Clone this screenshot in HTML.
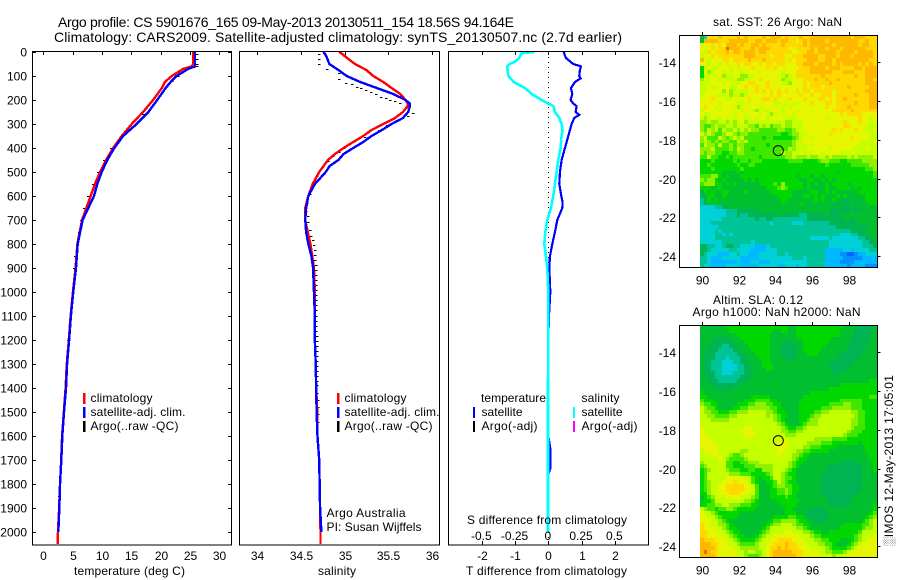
<!DOCTYPE html>
<html>
<head>
<meta charset="utf-8">
<title>Argo profile</title>
<style>
html,body{margin:0;padding:0;background:#fff;}
svg{display:block;font-family:"Liberation Sans",sans-serif;fill:#000;}
text{font-size:12px;}
.t{font-size:14px;}
</style>
</head>
<body>
<svg id="fig" xmlns="http://www.w3.org/2000/svg" width="900" height="580" viewBox="0 0 900 580">
<text class="t" x="58" y="27" textLength="456">Argo profile: CS 5901676_165 09-May-2013 20130511_154 18.56S 94.164E</text>
<text class="t" x="54" y="42" textLength="568">Climatology: CARS2009. Satellite-adjusted climatology: synTS_20130507.nc (2.7d earlier)</text>

<g id="p1"></g>
<g id="p2"></g>
<g id="p3"></g>
<g id="m1"></g>
<g id="m2"></g>

<rect x="32.5" y="51.5" width="199" height="493.5" fill="none" stroke="#000"/>
<rect x="239.5" y="51.5" width="200" height="493.5" fill="none" stroke="#000"/>
<rect x="448.5" y="51.5" width="200" height="493.5" fill="none" stroke="#000"/>
<rect x="679.5" y="35.5" width="198" height="232" fill="none" stroke="#000"/>
<rect x="679.5" y="325.5" width="198" height="232" fill="none" stroke="#000"/>

<text x="74" y="575" textLength="111">temperature (deg C)</text>
<text x="318" y="575" textLength="38">salinity</text>
<text x="466" y="575" textLength="161">T difference from climatology</text>
<text x="467" y="524" textLength="160">S difference from climatology</text>

<g>
<rect x="83" y="393" width="2.5" height="11" fill="#f00"/>
<rect x="83" y="407" width="2.5" height="11" fill="#00f"/>
<rect x="83" y="421" width="2.5" height="11" fill="#000"/>
<text x="90.5" y="402" textLength="62">climatology</text>
<text x="90.5" y="416" textLength="95">satellite-adj. clim.</text>
<text x="90.5" y="430" textLength="88">Argo(..raw -QC)</text>
</g>
<g>
<rect x="337" y="393" width="2.5" height="11" fill="#f00"/>
<rect x="337" y="407" width="2.5" height="11" fill="#00f"/>
<rect x="337" y="421" width="2.5" height="11" fill="#000"/>
<text x="344.5" y="402" textLength="62">climatology</text>
<text x="344.5" y="416" textLength="95">satellite-adj. clim.</text>
<text x="344.5" y="430" textLength="88">Argo(..raw -QC)</text>
<text x="326.5" y="517" textLength="79">Argo Australia</text>
<text x="326.5" y="531" textLength="95">PI: Susan Wijffels</text>
</g>
<g>
<text x="481" y="402" textLength="65">temperature</text>
<rect x="473" y="407" width="2" height="11" fill="#00f"/>
<text x="481.5" y="416" textLength="41">satellite</text>
<rect x="473" y="421" width="2" height="11" fill="#000"/>
<text x="481.5" y="430" textLength="56">Argo(-adj)</text>
<text x="581.5" y="402" textLength="38">salinity</text>
<rect x="573" y="407" width="2" height="11" fill="#0ff"/>
<text x="581.5" y="416" textLength="41">satellite</text>
<rect x="573" y="421" width="2" height="11" fill="#f0f"/>
<text x="581.5" y="430" textLength="56">Argo(-adj)</text>
</g>

<text x="713" y="26" textLength="129">sat. SST: 26 Argo: NaN</text>
<text x="713" y="304" textLength="90">Altim. SLA: 0.12</text>
<text x="692.5" y="316" textLength="168">Argo h1000: NaN h2000: NaN</text>
<text transform="translate(893,546) rotate(-90)" x="0" y="0" textLength="171">░IMOS 12-May-2013 17:05:01</text>
</svg>

<script>
// ---- depth profile data ----
const depthLevels = [0,10,25,50,60,70,100,125,150,200,250,300,350,400,450,500,550,600,700,800,900,1000,1100,1200,1300,1400,1500,1600,1700,1800,1900,2000,2050];
const tempClim = [25.55,25.55,25.55,25.5,25.3,23.85,21.9,20.7,20.2,18.7,17.0,15.06,13.36,11.9,10.68,9.66,8.8,8.07,6.6,5.8,5.5,5.05,4.65,4.35,4.0,3.8,3.5,3.2,3.05,2.85,2.7,2.5,2.45];
const tempSat = [25.85,25.85,25.85,25.85,25.85,24.7,22.7,21.7,20.85,19.4,17.9,15.9,13.6,12.1,10.9,9.95,9.2,8.64,6.7,5.86,5.57,5.1,4.7,4.4,4.05,3.87,3.53,3.24,3.07,2.85,2.73,2.56];
const argoTempDepth = [8,29,50,60,71,100,120,260,300,350,400,450,500,550,600,650,700,750,800,850,900,1000,1200,1850];
const argoTemp = [26.2,26.2,26.2,26.2,24.6,23.0,21.9,17.0,14.9,13.2,11.6,10.4,9.3,8.5,7.7,7.0,6.4,6.0,5.7,5.4,5.3,5.0,4.2,2.6];

const salDepth = [0,10,25,50,75,100,125,150,175,200,215,225,250,275,300,325,350,375,400,425,450,475,500,550,600,650,700,750,800,850,900,1000,1100,1200,1300,1400,1500,1600,1700,1800,1900,2000,2050];
const salClim = [34.94,34.98,35.03,35.12,35.25,35.33,35.445,35.54,35.64,35.70,35.725,35.725,35.67,35.58,35.445,35.31,35.215,35.10,34.99,34.89,34.81,34.76,34.71,34.635,34.585,34.55,34.55,34.578,34.61,34.63,34.65,34.66,34.66,34.66,34.67,34.675,34.688,34.69,34.71,34.715,34.72,34.725,34.725];
const salSat = [34.757,34.78,34.80,34.826,34.93,35.025,35.18,35.37,35.56,35.70,35.75,35.75,35.73,35.67,35.54,35.43,35.31,35.215,35.10,34.99,34.93,34.83,34.785,34.66,34.585,34.56,34.55,34.56,34.585,34.62,34.64,34.65,34.66,34.66,34.67,34.675,34.68,34.69,34.71,34.715,34.72,34.735];
const argoSalDepth = [8,29,50,71,89,114,128,135,144,151,158,165,175,186,193,200,204,214,235,253,267,283,304,325,356,374,399,415,432,453,492,515,557,592,631,661,682,707,742,765,784,805,826,847,868,888,909,930,951,972,993,1014,1035,1056,1077,1098,1119,1140,1161,1182,1203,1224,1245,1266,1287,1308,1329,1350,1371,1388,1420,1450,1480,1510,1540];
const argoSal = [34.71,34.71,34.71,34.80,34.933,34.933,35.017,35.083,35.14,35.186,35.247,35.30,35.358,35.415,35.473,35.522,35.579,35.636,35.70,35.782,35.73,35.60,35.484,35.39,35.235,35.10,34.994,34.937,34.872,34.815,34.719,34.688,34.635,34.604,34.567,34.555,34.578,34.585,34.604,34.616,34.635,34.647,34.658,34.665,34.665,34.673,34.673,34.673,34.673,34.673,34.673,34.673,34.673,34.673,34.673,34.673,34.673,34.673,34.673,34.681,34.681,34.681,34.681,34.681,34.681,34.681,34.681,34.681,34.688,34.688,34.688,34.695,34.695,34.70,34.70];

const diffTempDepth = [0,25,50,60,75,100,110,125,150,175,200,215,225,250,262,275,300,325,350,400,450,500,550,600,625,650,700,750,800,850,900,1000,1100,1200,1600,1660,1730,1760,2000];
const diffTemp = [0.46,0.53,0.75,0.98,0.95,0.93,0.97,0.80,0.68,0.72,0.67,0.75,0.85,0.82,0.93,0.78,0.70,0.65,0.60,0.50,0.40,0.35,0.33,0.39,0.43,0.42,0.27,0.20,0.12,0.05,0.03,0.06,0.02,0.0,0.0,0.07,0.07,0.0,0.0];
const diffSalDepth = [0,5,25,40,50,60,100,125,150,175,200,215,225,250,275,300,325,350,400,450,500,550,600,650,700,750,800,850,900,1000,1400,2000];
const diffSal = [-0.105,-0.20,-0.22,-0.25,-0.29,-0.31,-0.30,-0.26,-0.175,-0.125,-0.05,0,0.0375,0.05,0.0825,0.10,0.1075,0.10,0.0925,0.075,0.0625,0.05,0.0375,0.02,-0.0075,-0.0225,-0.03,-0.0175,-0.0075,0,-0.002,-0.002];

// ---- axis tick labels ----
const depthTicks = [0,100,200,300,400,500,600,700,800,900,1000,1100,1200,1300,1400,1500,1600,1700,1800,1900,2000];
const tempTicks = [0,5,10,15,20,25,30];
const salTicks = [34,34.5,35,35.5,36];
const diffTempTicks = [-2,-1,0,1,2];
const diffSalTicks = [-0.5,-0.25,0,0.25,0.5];
const lonTicks = [90,92,94,96,98];
const latTicks = [14,16,18,20,22,24];

// ---- map data: one colour-level code per 0.2 degree cell (0 coldest/lowest ... e warmest/highest) ----
const profileLon = 94.164;
const profileLat = 18.56;
const sstRows = [
"63cccdcc ccdcdccc cdcdddcd cccdccdd dddddddd dcdddccc",
"6ddddccc dddddccd dcdddcdd ccbcdcdd ddcddddd dddccdcc",
"bbbcbcbd ddcdccdd cdccccdc ccccdcdd ddddcddd dddcddcc",
"bbbcbcce dddcccdc dddccccc bbccccdc ddcdddcd dddddccc",
"bacbcccd cddcdddc ddcccccc cbbccddc dddddcdd ddcddddc",
"abbcbccc ccccdddc cccbcccb bcccdddd ccdddcdd dcdddddc",
"dbabbbcc bccccdcc cdcccccb cbcccddd ccddcddd ddddddcc",
"bbabbabc bbcbccbb cbccbccb bbccdddc ddddcdcd dddcdcdc",
"7abaabbb ababbbcb bbcbcbbb bbbcccdd ddcdddcc ccddcddd",
"7b9abbab abbabbbb bbbbbbab bbccccdd ddddcccd ddcccddd",
"7aabab9a abb99aab bbbbbba9 abcccccc cdcccccc ccdccddd",
"9babbaba aa99aabb cbbbbb9a abbbcccd ccdccdcc cccccddc",
"aaabbbab baabbccb bbcbbbaa 9bbbcbcc cccdcccc cccccddd",
"aabaabbb aabbcbbc bbcbbbbb bbbbcbcc cbcccccc dcccccdd",
"aabbbb9b 9abaabbc bcbcbcbc bbcbccbc ccccbccc cccccddd",
"abbbaaab 9aa9abbb bbbcbcbb bbbcbbcb bcccbccc ccdcccdd",
"bbbcbbba abbbbcbb bccbcbbb cbbbcbbb ccbcbccd ccccccdd",
"bbbbbabb bbaababb bbbbaaba baabbbcb bbccbccc ccdcccdd",
"bcbbabbb ba9abbbb abbbbbab abbbbbbb bbcbbccc dcccccdd",
"abbbbabb bbbabba9 baabbbab bbabbbbb bbbbcccc cdcccccc",
"baabbbbb babbabbb aba9abab babbbbbb bbbbbbcb ccccbbbb",
"a9abaaba babbaaba bbabbbba aabbbbbb bbabbbbb bbbcbbab",
"99a99aa9 a9ab9aaa aaaaaaa9 9aaabbbb bbbbbbbc bbbcbbab",
"9889a99a a9aaa998 a9a899a9 9aaabbbb bbbbbbbc cbbbbaaa",
"98a9a8a9 9a9a9a99 88888998 89aabbbb bbbbcbcb bbcbbaab",
"a9a9889a a9899888 88888877 899aabbb bbbcbbbb bbbbbbaa",
"9a888a98 9a9a8888 87887777 789abbab bbbbbbbb bcbbbbaa",
"9a989899 88a9a888 88888888 89aabbbb bbbbbbbb bbbbaaab",
"8a998a88 98998888 88788888 89aaabab bbbbbbbb bbbaaaaa",
"999a8888 98a98878 88888888 a9aaabbb bbbabbbb baaaabaa",
"98998877 88998888 888888a9 9aabaaab babbbbaa abaaaaaa",
"88a88778 78888888 78888889 9a999a99 aa9a9999 a9a9999a",
"77787777 78788788 87777777 88887777 89988877 88889999",
"77877777 77877887 77777777 77777777 77877777 78888899",
"77787777 77787777 77777777 77777777 77777777 77777889",
"77777766 66767777 77777777 77777777 77777677 77777778",
"88899767 66677777 77777777 77677767 76777777 77777778",
"98997676 66667676 77777777 77766776 67676777 77777777",
"89997767 67666666 77778797 77776767 66767777 67777777",
"77766766 66666666 66777898 77776766 66766777 76767777",
"57676677 66667666 66677777 76666677 66767666 66677777",
"55776676 66666666 66666777 76667767 67666767 66666777",
"45767666 66666666 66666677 66666667 67667665 56666777",
"45666666 66666666 66666676 66676666 66666555 66656677",
"33334455 66666666 66666666 66666666 66665665 56566666",
"33333334 44555555 66666666 66666666 66655555 56556666",
"33333334 44544555 55555655 55544555 55655566 66666666",
"33333344 44444445 44554444 44444555 55555556 65666666",
"33344444 44444444 44434444 43334444 44455555 55566666",
"33333444 44444444 44444444 44444444 44444555 55555566",
"33334344 44444444 44444444 44444444 44444444 45555666",
"33334434 34444444 44444444 44444444 44444433 34455566",
"33334444 44444444 44444444 44444433 33343333 33344556",
"33333344 44444434 44444444 44444444 44433333 33334455",
"55443345 54433332 22344444 44444444 44433333 33334445",
"55433333 44333322 22333444 44444444 44222223 32333344",
"54333222 33433222 33333443 44444444 44222211 00122333",
"44322233 33322222 33333333 34443444 44222221 11112222",
"44322222 22322233 22233333 33333444 44222211 11222222",
"43322223 33322222 33333223 33233444 44222222 12222111"
];
const slaRows = [
"66666667 77777777 77777777 66777777 77777776 66655556",
"66666666 77777777 77776677 66777777 77777766 66555556",
"66666666 66777777 77766666 66777777 77777766 66555566",
"66665555 66677777 77766666 66677777 77776666 65555566",
"66655555 56667777 77766665 56667777 77766666 65555566",
"66555544 55666777 77766655 55667777 77666666 55555666",
"66555444 45566677 77766655 55667777 76666666 55555666",
"65554444 44556667 77766655 55666777 66666655 55556666",
"65554443 44455666 77766665 55666666 66666555 55566666",
"65544433 34455666 67766666 66666666 66655555 55666666",
"65544433 33445566 67776666 66666666 66655555 56666666",
"65544433 33445566 66776666 66666666 66665555 66666666",
"65554433 34445566 66666666 66666666 66665566 66666666",
"66554444 44455566 66666666 66666666 66666666 66666666",
"66555444 44555666 66666666 66666666 66666666 66666677",
"66655555 55566666 66666666 66666666 66666677 77777777",
"66666555 56666666 66666666 66666666 66677777 77777777",
"76666666 66666666 66666666 66666677 77777777 77777777",
"77666666 66666677 77766666 66667777 77777777 77777788",
"87776666 66667778 88877666 66677777 77777788 88887777",
"98877666 66777889 99887766 66677777 77788889 98887777",
"a9887666 67788999 99988766 66677777 78889999 98887777",
"a9988777 88999aaa aa998776 66677778 899aaaaa a9988777",
"aa998888 99aaaaaa aa9a9877 66677789 9aaaaaaa aa988777",
"aaa99999 aaaaaaaa aaaa9876 66677899 aaaaaaaa a9988777",
"aaaaaaaa aaaaaaaa aaaaa987 66678999 aaaaaaaa a9988777",
"baaaaaaa aaaabbaa aaaaaa98 77889aaa aaaaaaaa a9888777",
"baaaaaaa aaabbbba aaaaaa99 8899aaaa aaaaaaaa 98887777",
"bbaaaaaa aaaabbba aaaaaaa9 99aaaaaa aaaaaaa9 88877777",
"bbbaaaaa aaaaabaa aaaaaaaa aaaaaaa9 99998888 77777777",
"bbbbaaaa aaaaaaaa aaaaabbb aaaaa999 98887777 77767777",
"bbbbbaaa aaaaaaaa aaaabbbb aaaa9988 87777666 66666777",
"abbbbaaa aaa99aaa aaaaabba aa998877 77766666 66666777",
"aaabbbaa 9889aaaa aaaaabaa a9987766 66666666 66666677",
"aaaaaba9 88889aaa aaaaaaaa a9877666 66666666 66666677",
"9aaaaaa8 87788999 aaaaaaaa 98776666 66666655 55566667",
"89aaaaa8 87778889 9999aaaa 98766666 66655555 55556667",
"789aaaa9 88877887 7999aaa9 87666666 66555555 55556667",
"78aaaaaa 99988877 7789aa98 77666666 66555555 55556666",
"78aaaaab bbbbaa87 6778aa98 87666666 65555555 55556666",
"789aaabb bcbbba87 66778a98 77666666 65555555 55556666",
"789aabbc ccccbba8 66678998 87766666 65555555 55556666",
"789aabbc ccccbba8 66677889 87766666 65555555 55556666",
"779aabbb cccbbaa8 66677889 87666666 65555555 55566666",
"6789aaab bbbaaa98 66677778 77666666 66555555 55666666",
"6778aaaa aaaa9987 66666777 77766666 66655555 56666666",
"778899aa 99988877 66666677 77666666 66655555 66666667",
"a9887889 98777776 66666667 76666655 55666666 66666667",
"baa98777 77766666 66666667 77666555 55566666 66666678",
"bbaa9877 77666666 66667777 88776555 55566666 66666789",
"bbbaa987 66666666 66678899 99877665 55666666 6666789a",
"cbbaa998 76666666 667899aa a9887766 66666667 7777889a",
"cbbbaa98 77666666 678aaaaa aa998766 66666677 7777899a",
"ccbbbaa9 87766666 789aaaab baaa9987 76677777 7778aaaa",
"ccbbbbaa 98776667 89aabbbb bbbaaa98 87777777 7789aaab",
"dcccbbba a9877778 9aabbccc cbbbaaa9 98877766 6789aabb",
"dddccbbb aa988889 aabbcccd ccbbbaaa 99887666 789abbbb",
"ddddcbbb baa99999 aabccdcd cccbbbaa aa987777 89abbbbb",
"dedccbbb bbaa9aa9 9abcdddd dcccbbbb aa998889 abbbbbbb",
"ddddcbbb bbaa9888 9abcdddd ddccbbbb baaa9aaa bbbbbbbb"
];

// ---- rendering ----
const NS = 'http://www.w3.org/2000/svg';
const colorScale = {'0':'#0064ff','1':'#0090ff','2':'#00b8ff','3':'#00d0d8','4':'#00c498','5':'#00b454','6':'#00c030','7':'#00d800','8':'#40e800','9':'#90f000','a':'#c4ff00','b':'#e6f500','c':'#ffd800','d':'#ffb800','e':'#e07000'};

function yDepth(d){ return 52 + d * 0.24; }
function xTemp(v){ return 43.3 + v * 5.87; }
function xSal(v){ return 257.3 + (v - 34) * 87.2; }
function xDiffT(v){ return 548.3 + v * 33.3; }
function xDiffS(v){ return 548.3 + v * 133; }
function xLon(v){ return 701.7 + (v - 90) * 18.4; }
function yLat(v, top){ return top + 27.3 + (v - 14) * 19.37; }

function svgEl(tag, parent){
  const el = document.createElementNS(NS, tag);
  parent.appendChild(el);
  return el;
}
function addLine(parent, x1, y1, x2, y2){
  const el = svgEl('line', parent);
  el.setAttribute('x1', x1); el.setAttribute('y1', y1);
  el.setAttribute('x2', x2); el.setAttribute('y2', y2);
  el.setAttribute('stroke', '#000');
  el.setAttribute('shape-rendering', 'crispEdges');
  
  
  return el;
}
function addLabel(parent, x, y, str, anchor){
  const el = svgEl('text', parent);
  el.setAttribute('x', x); el.setAttribute('y', y);
  el.setAttribute('text-anchor', anchor);
  el.textContent = str;
  
  
  return el;
}
function addCurve(parent, xs, ds, xf, color, width, name){
  const el = svgEl('polyline', parent);
  el.setAttribute('points', xs.map((v, i) => xf(v).toFixed(2) + ',' + yDepth(ds[i]).toFixed(2)).join(' '));
  el.setAttribute('fill', 'none');
  el.setAttribute('stroke', color);
  el.setAttribute('stroke-width', width);
  el.setAttribute('shape-rendering', 'crispEdges');
  
  
  return el;
}
function addDashes(parent, xs, ds, xf){
  xs.forEach((v, i) => {
    const el = svgEl('rect', parent);
    el.setAttribute('x', (xf(v) - 1).toFixed(0));
    el.setAttribute('y', yDepth(ds[i]).toFixed(0));
    el.setAttribute('width', 2.4);
    el.setAttribute('height', 1);
    el.setAttribute('fill', '#000');
    el.setAttribute('shape-rendering', 'crispEdges');
    
    
  });
}
function addHeatmap(parent, rows, top){
  rows.forEach((row, r) => {
    const codes = row.replace(/ /g, '');
    for (let c = 0; c < codes.length; c++) {
      const lonW = 89.9 + c * 0.2;
      const latN = 12.59 + r * 0.2;
      const x0 = Math.round(xLon(lonW));
      const x1 = Math.round(xLon(lonW + 0.2));
      const y0 = Math.round(yLat(latN, top));
      const y1 = Math.round(yLat(latN + 0.2, top));
      const el = svgEl('rect', parent);
      el.setAttribute('x', x0);
      el.setAttribute('y', y0);
      el.setAttribute('width', x1 - x0);
      el.setAttribute('height', y1 - y0);
      el.setAttribute('fill', colorScale[codes[c]]);
      el.setAttribute('shape-rendering', 'crispEdges');
      
      
    }
  });
}
function addMapAxes(parent, top, labelY){
  lonTicks.forEach(v => {
    const x = Math.round(xLon(v)) + 0.5;
    addLine(parent, x, top - 3, x, top);
    addLabel(parent, x, labelY, String(v), 'middle');
  });
  latTicks.forEach(v => {
    const y = Math.round(yLat(v, top)) + 0.5;
    addLine(parent, 877.5, y, 880.5, y);
    addLabel(parent, 676, y + 4.5, '-' + v, 'end');
  });
  const c = svgEl('circle', parent);
  c.setAttribute('cx', xLon(profileLon).toFixed(1));
  c.setAttribute('cy', yLat(profileLat, top).toFixed(1));
  c.setAttribute('r', 5);
  c.setAttribute('fill', 'none');
  c.setAttribute('stroke', '#000');
  
  
}

// temperature panel
const p1 = document.getElementById('p1');
addDashes(p1, argoTemp, argoTempDepth, xTemp);
addCurve(p1, tempClim, depthLevels, xTemp, '#f00', 2.4, 'temperature-climatology-line');
addCurve(p1, tempSat, depthLevels, xTemp, '#00f', 2.4, 'temperature-satellite-line');
depthTicks.forEach(d => {
  const y = Math.round(yDepth(d)) + 0.5;
  addLine(p1, 32.5, y, 36, y);
  addLine(p1, 228, y, 231.5, y);
  addLabel(p1, 27, y + 4, String(d), 'end');
});
tempTicks.forEach(v => {
  const x = Math.round(xTemp(v)) + 0.5;
  addLine(p1, x, 51.5, x, 55);
  addLabel(p1, x, 560, String(v), 'middle');
});

// salinity panel
const p2 = document.getElementById('p2');
addDashes(p2, argoSal, argoSalDepth, xSal);
addCurve(p2, salClim, salDepth, xSal, '#f00', 2.4, 'salinity-climatology-line');
addCurve(p2, salSat, salDepth, xSal, '#00f', 2.4, 'salinity-satellite-line');
salTicks.forEach(v => {
  const x = Math.round(xSal(v)) + 0.5;
  addLine(p2, x, 51.5, x, 55);
  addLabel(p2, x, 560, String(v), 'middle');
});

// difference panel
const p3 = document.getElementById('p3');
const zero = addLine(p3, 548.5, 52, 548.5, 545);
zero.setAttribute('stroke-dasharray', '1 4');

addCurve(p3, diffTemp, diffTempDepth, xDiffT, '#00f', 2.2, 'temperature-difference-line');
addCurve(p3, diffSal, diffSalDepth, xDiffS, '#0ff', 2.6, 'salinity-difference-line');
diffTempTicks.forEach(v => {
  const x = Math.round(xDiffT(v)) + 0.5;
  addLine(p3, x, 51.5, x, 55);
  addLine(p3, x, 541, x, 545);
  addLabel(p3, x, 560, String(v), 'middle');
});
diffSalTicks.forEach(v => {
  addLabel(p3, xDiffS(v) - 0.5, 540, String(v), 'middle');
});

// maps
const m1 = document.getElementById('m1');
addHeatmap(m1, sstRows, 35);
addMapAxes(m1, 35, 284.5);
const m2 = document.getElementById('m2');
addHeatmap(m2, slaRows, 325);
addMapAxes(m2, 325, 574.5);
</script>
</body>
</html>
